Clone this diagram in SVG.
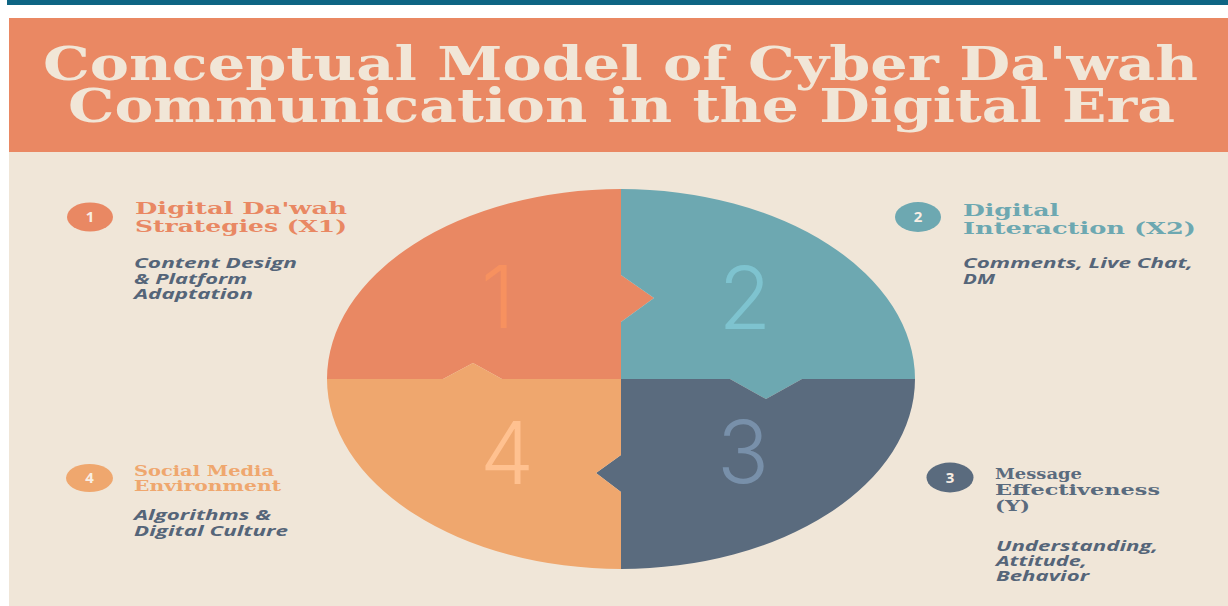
<svg xmlns="http://www.w3.org/2000/svg" width="1228" height="606" viewBox="0 0 1228 606">
<style>
.title{font-family:"DejaVu Serif","Liberation Serif",serif;font-weight:bold;fill:#F1E6D7;font-size:47px}
.head{font-family:"DejaVu Serif","Liberation Serif",serif;font-weight:bold;font-size:17px}
.hs{font-size:15.5px}
.sub{font-family:"Open Sans","DejaVu Sans",sans-serif;font-weight:bold;font-style:italic;fill:#556579;font-size:13.5px}
.badge{font-family:"Open Sans","DejaVu Sans",sans-serif;font-weight:bold;fill:#F8EEE4;font-size:15px;text-anchor:middle}
.big{font-family:Inter,"Open Sans",sans-serif;font-weight:300;font-size:86px;text-anchor:middle}
.c1{fill:#E98863}.c2{fill:#6DA8B1}.c3{fill:#5A6B7E}.c4{fill:#EFA76E}
</style>
<rect x="0" y="0" width="1228" height="606" fill="#FFFFFF"/>
<rect x="7" y="0" width="1221" height="5" fill="#0E6584"/>
<rect x="9" y="18" width="1219" height="134" fill="#EA8863"/>
<rect x="9" y="152" width="1219" height="454" fill="#F0E6D8"/>
<g id="title">
<text class="title" x="43" y="80" textLength="1155" lengthAdjust="spacingAndGlyphs">Conceptual Model of Cyber Da'wah</text>
<text class="title" x="68" y="122" textLength="1107" lengthAdjust="spacingAndGlyphs">Communication in the Digital Era</text>
</g>
<g id="puzzle">
<path class="c1" d="M621 379 L502 379 L473 363 L443 379 L327 379 A294 190 0 0 1 621 189 L621 275 L654 298 L621 322 Z"/>
<path class="c2" d="M621 189 A294 190 0 0 1 915 379 L802 379 L766 399 L730 379 L621 379 L621 322 L654 298 L621 275 Z"/>
<path class="c3" d="M915 379 A294 190 0 0 1 621 569 L621 492 L596 473 L621 455 L621 379 L730 379 L766 399 L802 379 Z"/>
<path class="c4" d="M621 569 A294 190 0 0 1 327 379 L443 379 L473 363 L502 379 L621 379 L621 455 L596 473 L621 492 Z"/>
<text class="big" x="498" y="328" fill="#F7915F">1</text>
<text class="big" x="745" y="329" fill="#7EC3CF">2</text>
<text class="big" x="743" y="483" fill="#7890AA">3</text>
<text class="big" x="507" y="484" fill="#FFC190">4</text>
</g>
<g id="node1">
<ellipse class="c1" cx="90" cy="217" rx="23" ry="14.5"/>
<text class="badge" x="90" y="222">1</text>
<text class="head c1" x="135" y="214" textLength="212" lengthAdjust="spacingAndGlyphs">Digital Da'wah</text>
<text class="head c1" x="135" y="232" textLength="212" lengthAdjust="spacingAndGlyphs">Strategies (X1)</text>
<text class="sub" x="134" y="268" textLength="163" lengthAdjust="spacingAndGlyphs">Content Design</text>
<text class="sub" x="134" y="283.5" textLength="113" lengthAdjust="spacingAndGlyphs">&amp; Platform</text>
<text class="sub" x="134" y="299" textLength="119" lengthAdjust="spacingAndGlyphs">Adaptation</text>
</g>
<g id="node2">
<ellipse class="c2" cx="918" cy="217" rx="23" ry="15"/>
<text class="badge" x="918" y="222">2</text>
<text class="head c2" x="963" y="216" textLength="96" lengthAdjust="spacingAndGlyphs">Digital</text>
<text class="head c2" x="963" y="234" textLength="233" lengthAdjust="spacingAndGlyphs">Interaction (X2)</text>
<text class="sub" x="963" y="268" textLength="230" lengthAdjust="spacingAndGlyphs">Comments, Live Chat,</text>
<text class="sub" x="963" y="283.5" textLength="32" lengthAdjust="spacingAndGlyphs">DM</text>
</g>
<g id="node3">
<ellipse class="c3" cx="950" cy="477.5" rx="23.5" ry="15"/>
<text class="badge" x="950" y="482.5">3</text>
<text class="head hs c3" x="995" y="479" textLength="87" lengthAdjust="spacingAndGlyphs">Message</text>
<text class="head hs c3" x="995" y="495" textLength="165" lengthAdjust="spacingAndGlyphs">Effectiveness</text>
<text class="head hs c3" x="995" y="511" textLength="35" lengthAdjust="spacingAndGlyphs">(Y)</text>
<text class="sub" x="996" y="551" textLength="162" lengthAdjust="spacingAndGlyphs">Understanding,</text>
<text class="sub" x="996" y="566" textLength="91" lengthAdjust="spacingAndGlyphs">Attitude,</text>
<text class="sub" x="996" y="581" textLength="93" lengthAdjust="spacingAndGlyphs">Behavior</text>
</g>
<g id="node4">
<ellipse class="c4" cx="89.5" cy="478" rx="23.5" ry="14"/>
<text class="badge" x="89.5" y="483">4</text>
<text class="head hs c4" x="134" y="476" textLength="140" lengthAdjust="spacingAndGlyphs">Social Media</text>
<text class="head hs c4" x="134" y="491" textLength="147" lengthAdjust="spacingAndGlyphs">Environment</text>
<text class="sub" x="134" y="520" textLength="137" lengthAdjust="spacingAndGlyphs">Algorithms &amp;</text>
<text class="sub" x="134" y="535.5" textLength="154" lengthAdjust="spacingAndGlyphs">Digital Culture</text>
</g>
<g id="connectors"/>
</svg>
